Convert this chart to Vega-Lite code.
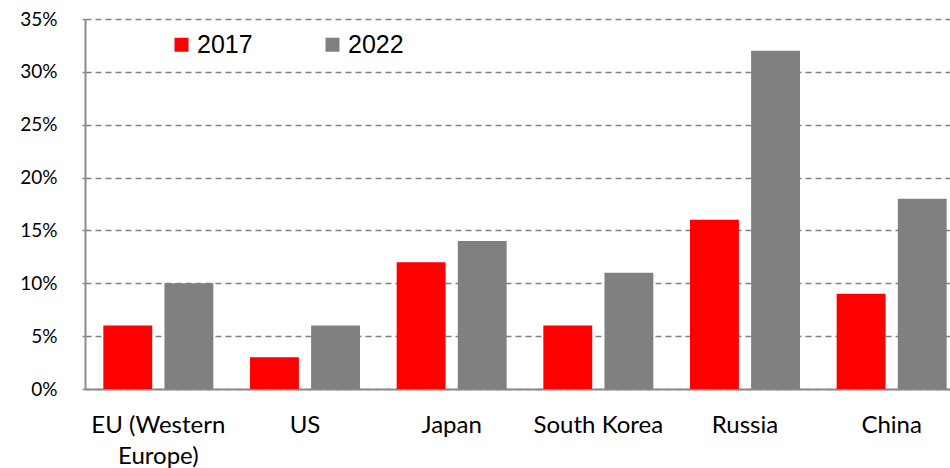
{
  "$schema": "https://vega.github.io/schema/vega-lite/v6.json",
  "width": 950,
  "height": 468,
  "autosize": {"type": "fit", "contains": "padding"},
  "padding": {"left": 19, "top": 10, "right": -15, "bottom": 0},
  "background": "white",
  "data": {"values": [
    {"region": "EU (Western Europe)", "year": "2017", "share": 0.06},
    {"region": "EU (Western Europe)", "year": "2022", "share": 0.10},
    {"region": "US", "year": "2017", "share": 0.03},
    {"region": "US", "year": "2022", "share": 0.06},
    {"region": "Japan", "year": "2017", "share": 0.12},
    {"region": "Japan", "year": "2022", "share": 0.14},
    {"region": "South Korea", "year": "2017", "share": 0.06},
    {"region": "South Korea", "year": "2022", "share": 0.11},
    {"region": "Russia", "year": "2017", "share": 0.16},
    {"region": "Russia", "year": "2022", "share": 0.32},
    {"region": "China", "year": "2017", "share": 0.09},
    {"region": "China", "year": "2022", "share": 0.18}
  ]},
  "config": {"view": {"stroke": null}},
  "mark": {"type": "bar"},
  "encoding": {
    "x": {
      "field": "region", "type": "nominal", "sort": null, "title": null,
      "scale": {"paddingInner": 0.25, "paddingOuter": 0.125},
      "axis": {
        "labelAngle": 0, "ticks": false, "domainColor": "#8c8c8c", "domainWidth": 2,
        "labelFont": "Lato, sans-serif", "labelFontSize": 24, "labelColor": "#000000",
        "labelPadding": 24, "labelLineHeight": 31, "labelBaseline": "top",
        "labelExpr": "datum.label == 'EU (Western Europe)' ? ['EU (Western', 'Europe)'] : datum.label"
      }
    },
    "xOffset": {"field": "year", "type": "nominal", "scale": {"paddingInner": 0.2}},
    "y": {
      "field": "share", "type": "quantitative", "title": null,
      "scale": {"domain": [0, 0.35], "nice": false},
      "axis": {
        "values": [0, 0.05, 0.1, 0.15, 0.2, 0.25, 0.3, 0.35], "format": ".0%",
        "ticks": true, "tickSize": 3, "tickColor": "#8c8c8c", "tickWidth": 1.5, "labelPadding": 25,
        "domainColor": "#8c8c8c", "domainWidth": 2,
        "grid": true, "gridColor": "#808080", "gridDash": [6, 4], "gridWidth": 1.5,
        "labelFont": "Lato, sans-serif", "labelFontSize": 19, "labelColor": "#000000"
      }
    },
    "color": {
      "field": "year", "type": "nominal",
      "scale": {"domain": ["2017", "2022"], "range": ["#ff0000", "#808080"]},
      "legend": {
        "title": null, "orient": "none", "legendX": 84, "legendY": 13, "direction": "horizontal",
        "symbolType": "square", "symbolSize": 196, "symbolStrokeWidth": 0, "symbolOpacity": 1,
        "labelFont": "Liberation Sans, Arial, sans-serif", "labelFontSize": 25, "labelColor": "#000000",
        "labelOffset": 3, "columnPadding": 67
      }
    }
  }
}
